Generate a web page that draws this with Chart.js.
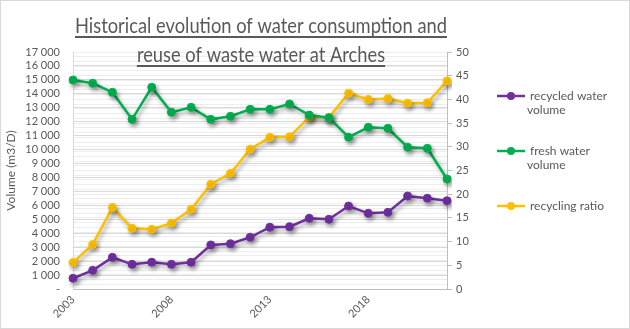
<!DOCTYPE html>
<html>
<head>
<meta charset="utf-8">
<script src="https://cdn.jsdelivr.net/npm/chart.js@4.4.1/dist/chart.umd.min.js"></script>
<style>
  html, body { margin: 0; padding: 0; background: #fff; }
  #wrap { width: 630px; height: 329px; position: relative; }
</style>
</head>
<body>
<div id="wrap"><canvas id="waterChart"></canvas></div>
<script>
// values
const years = ['2003', '2004', '2005', '2006', '2007', '2008', '2009', '2010', '2011', '2012',
               '2013', '2014', '2015', '2016', '2017', '2018', '2019', '2020', '2021', '2022'];
const recycledVolume = [770, 1340, 2270, 1770, 1920, 1770, 1920, 3160, 3250, 3710,
                        4430, 4470, 5070, 5000, 5950, 5430, 5500, 6670, 6510, 6330];
const freshVolume = [14990, 14760, 14110, 12170, 14470, 12680, 13030, 12170, 12390, 12890,
                     12890, 13270, 12480, 12290, 10890, 11600, 11530, 10170, 10090, 7890];
const recyclingRatio = [5.6, 9.4, 17.2, 12.8, 12.6, 13.9, 16.8, 22.1, 24.4, 29.5,
                        32.0, 32.1, 36.3, 36.2, 41.3, 40.0, 40.2, 39.2, 39.3, 43.9];
const titleLines = ['Historical evolution of water consumption and', 'reuse of waste water at Arches'];

const grey = '#595959';
Chart.defaults.font.family = 'Lato';
Chart.defaults.color = grey;

function thousands(v) {
    if (v === 0) return '-';
    return String(v).replace(/\B(?=(\d{3})+(?!\d))/g, ' ');
}

// soft drop shadow under the lines, like the Excel effect
const shadowPlugin = {
    id: 'shadow',
    beforeDatasetsDraw(chart) {
        const ctx = chart.ctx;
        ctx.save();
        ctx.shadowColor = 'rgba(0,0,0,0.35)';
        ctx.shadowBlur = 4;
        ctx.shadowOffsetX = 2;
        ctx.shadowOffsetY = 3;
    },
    afterDatasetsDraw(chart) {
        chart.ctx.restore();
    }
};

// title with underline, border and wrapped legend
const decorPlugin = {
    id: 'decor',
    afterDraw(chart) {
        const ctx = chart.ctx;
        ctx.save();
        ctx.strokeStyle = '#d9d9d9';
        ctx.lineWidth = 1;
        ctx.strokeRect(0.5, 0.5, chart.width - 1, chart.height - 1);

        // title: Calibri-like narrow look, squeezed horizontally
        ctx.font = '21px Lato';
        ctx.fillStyle = grey;
        ctx.strokeStyle = grey;
        ctx.textAlign = 'center';
        ctx.textBaseline = 'alphabetic';
        const cx = 261;
        const baselines = [33, 62];
        const firstWidth = ctx.measureText(titleLines[0]).width;
        const sx = 372 / firstWidth;
        titleLines.forEach((t, i) => {
            const w = ctx.measureText(t).width * sx;
            ctx.save();
            ctx.translate(cx, baselines[i]);
            ctx.scale(sx, 1);
            ctx.fillText(t, 0, 0);
            ctx.restore();
            ctx.lineWidth = 2;
            ctx.beginPath();
            ctx.moveTo(cx - w / 2, baselines[i] + 4);
            ctx.lineTo(cx + w / 2, baselines[i] + 4);
            ctx.stroke();
        });

        // legend
        ctx.font = '12px Lato';
        ctx.textAlign = 'left';
        ctx.textBaseline = 'middle';
        chart.data.datasets.forEach((ds, i) => {
            const y = 96 + i * 55;
            ctx.strokeStyle = ds.borderColor;
            ctx.fillStyle = ds.borderColor;
            ctx.lineWidth = 2.5;
            ctx.beginPath();
            ctx.moveTo(497, y);
            ctx.lineTo(525, y);
            ctx.stroke();
            ctx.beginPath();
            ctx.arc(511, y, 4, 0, Math.PI * 2);
            ctx.fill();
            // wrap words to width
            const words = ds.label.split(' ');
            const lines = [];
            let cur = '';
            words.forEach(w => {
                const test = cur ? cur + ' ' + w : w;
                if (ctx.measureText(test).width > 82 && cur) {
                    lines.push(cur);
                    cur = w;
                } else {
                    cur = test;
                }
            });
            lines.push(cur);
            ctx.fillStyle = grey;
            lines.forEach((l, k) => {
                ctx.fillText(l, k === 0 ? 530 : 527, y + k * 14);
            });
        });
        ctx.restore();
    }
};

const ctx = document.getElementById('waterChart').getContext('2d');
new Chart(ctx, {
    type: 'line',
    data: {
        labels: years,
        datasets: [{
            label: 'recycled water volume',
            data: recycledVolume,
            yAxisID: 'y',
            borderColor: '#7030A0',
            backgroundColor: '#7030A0'
        }, {
            label: 'fresh water volume',
            data: freshVolume,
            yAxisID: 'y',
            borderColor: '#00B050',
            backgroundColor: '#00B050'
        }, {
            label: 'recycling ratio',
            data: recyclingRatio,
            yAxisID: 'y1',
            borderColor: '#FFC000',
            backgroundColor: '#FFC000'
        }]
    },
    options: {
        responsive: true,
        maintainAspectRatio: false,
        animation: false,
        layout: { padding: { top: 52, left: 0, right: 0, bottom: 0 } },
        elements: {
            line: { borderWidth: 2.5, tension: 0 },
            point: { radius: 4, hoverRadius: 4, borderWidth: 1 }
        },
        plugins: {
            legend: { display: false },
            tooltip: { enabled: false }
        },
        scales: {
            x: {
                offset: false,
                grid: { display: false, drawTicks: false },
                border: { color: '#bfbfbf' },
                ticks: {
                    autoSkip: false,
                    maxRotation: 45,
                    minRotation: 45,
                    padding: 4,
                    font: { size: 11 },
                    callback: (v, i) => (i % 5 === 0 ? years[i] : '')
                },
                afterFit: s => { s.height = 40; }
            },
            y: {
                position: 'left',
                min: 0,
                max: 17000,
                grid: { color: '#d9d9d9', drawTicks: false },
                border: { color: '#d9d9d9' },
                ticks: {
                    stepSize: 1000,
                    autoSkip: false,
                    padding: 13,
                    font: { size: 11 },
                    callback: v => thousands(v)
                },
                title: {
                    display: true,
                    text: 'Volume (m3/D)',
                    font: { size: 12 },
                    padding: { top: 4, bottom: 0 }
                },
                afterFit: s => { s.width = 73; }
            },
            y1: {
                position: 'right',
                min: 0,
                max: 50,
                grid: {
                    color: '#eeeeee',
                    tickLength: 5,
                    tickColor: c => (c.tick && c.tick.value % 5 === 0 ? '#bfbfbf' : 'rgba(0,0,0,0)')
                },
                border: { color: '#bfbfbf' },
                ticks: {
                    stepSize: 1,
                    autoSkip: false,
                    padding: 4,
                    font: { size: 11 },
                    callback: v => (v % 5 === 0 ? v : '')
                },
                afterFit: s => { s.width = 183; }
            }
        }
    },
    plugins: [shadowPlugin, decorPlugin]
});
</script>
</body>
</html>
